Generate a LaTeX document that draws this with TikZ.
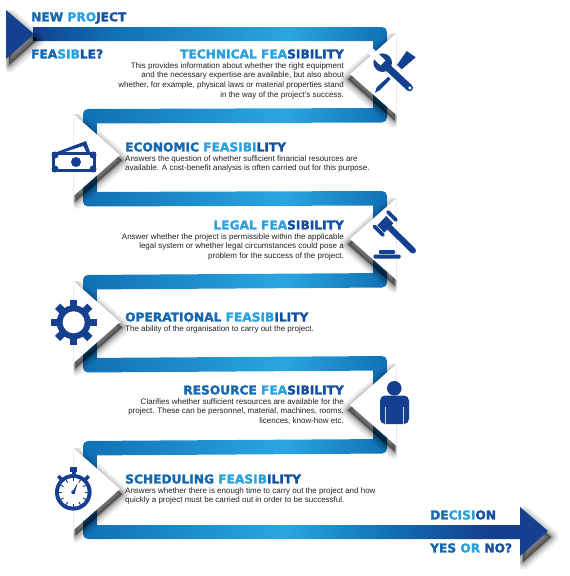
\documentclass[tikz,border=0pt]{standalone}
\usepackage{fontspec}
\setmainfont{Liberation Sans}
\newfontfamily\headfont[BoldFeatures={FakeBold=1.8}]{DejaVu Sans}
\usetikzlibrary{positioning}

\definecolor{iconblue}{HTML}{14408F}
\definecolor{headdark}{HTML}{1468B0}
\definecolor{headlight}{HTML}{2AA0DC}
\definecolor{headnavy}{HTML}{1450A0}
\definecolor{bandmid}{HTML}{1070B5}
\definecolor{bandlight}{HTML}{2AA6E1}
\definecolor{bodytext}{HTML}{222222}

\pgfdeclarehorizontalshading{rowshade}{100bp}{color(0bp)=(bandmid); color(25bp)=(bandmid); color(58bp)=(bandlight); color(75bp)=(bandmid); color(100bp)=(bandmid)}
\pgfdeclarehorizontalshading{firstshade}{100bp}{color(0bp)=(iconblue); color(25bp)=(iconblue); color(36bp)=(bandmid); color(61bp)=(bandlight); color(75bp)=(bandmid); color(100bp)=(bandmid)}
\pgfdeclarehorizontalshading{lastshade}{100bp}{color(0bp)=(bandmid); color(25bp)=(bandmid); color(48bp)=(bandlight); color(60bp)=(bandmid); color(71bp)=(iconblue); color(100bp)=(iconblue)}

\tikzset{
  headtext/.style={inner sep=0pt, font=\headfont\bfseries\fontsize{12.2}{13}\selectfont},
  bodyright/.style={inner sep=0pt, align=right, text=bodytext, font=\fontsize{8}{9.7}\selectfont},
  bodyleft/.style={inner sep=0pt, align=left, text=bodytext, font=\fontsize{8}{9.7}\selectfont},
  shadowlayer/.style={fill=black, draw=black, opacity=0.07, line join=round},
}

% three tints along one heading
\newcommand{\tints}[3]{\textcolor{headdark}{#1}\textcolor{headlight}{#2}\textcolor{headnavy}{#3}}
\newcommand{\softshadow}[2]{\foreach \w in {1,2,3,4,6,8,11,15}{\path[shadowlayer, line width=\w pt, shift={#2}] #1;}}

\begin{document}
\begin{tikzpicture}[x=1pt, y=-1pt]
  \useasboundingbox (0,0) rectangle (570,576);
  \fill[white] (0,0) rectangle (570,576);

  % Vertical links
  \foreach \ya/\yb in {34/115,198/281,363/446}
    \fill[bandmid] (373,\ya) rectangle (387,\yb);
  \foreach \ya/\yb in {116/200,282/365,448/532}
    \fill[bandmid] (83,\ya) rectangle (97,\yb);

  % Bands
  \path[shading=firstshade] (33,27) [rounded corners=5pt] -- (387,27) [sharp corners] -- (387,41) -- (33,41) -- cycle;
  \foreach \yl/\yr in {109/108,275/273,441/439}
    \path[shading=rowshade] (83,\yl+14.5) [rounded corners=5pt] -- (83,\yl) [sharp corners] -- (387,\yr) [rounded corners=5pt] -- (387,\yr+14.5) [sharp corners] -- cycle;
  \foreach \yl/\yr in {192/191,358/356}
    \path[shading=rowshade] (83,\yl) [rounded corners=5pt] -- (83,\yl+14.5) [sharp corners] -- (387,\yr+14.5) [rounded corners=5pt] -- (387,\yr) [sharp corners] -- cycle;
  \path[shading=lastshade] (521,525) -- (83,525) [rounded corners=5pt] -- (83,539) [sharp corners] -- (521,539) -- cycle;

  % White pointers
  \foreach \tipx/\tipy/\d in {350/74/-1,120/155/1,350/239/-1,120/322/1,350/405/-1,120/489/1}{
    \begin{scope}
      \clip (\tipx-46.5*\d,\tipy-41) rectangle (\tipx+40*\d,\tipy+60);
      \softshadow{(\tipx-46.5*\d,\tipy-41) -- (\tipx,\tipy) -- (\tipx-46.5*\d,\tipy+41) -- cycle}{(2*\d,5.3)}
    \end{scope}
    \fill[white] (\tipx-46.5*\d,\tipy-41) -- (\tipx,\tipy) -- (\tipx-46.5*\d,\tipy+41) -- cycle;
  }

  % Arrow heads
  \begin{scope}
    \clip (6,10) rectangle (60,80);
    \softshadow{(6,10) -- (34,34) -- (6,59) -- cycle}{(3,6)}
  \end{scope}
  \fill[iconblue] (6,10) -- (34,34) -- (6,59) -- cycle;
  \begin{scope}
    \clip (520,507) rectangle (570,576);
    \softshadow{(520,507) -- (548,531) -- (520,556) -- cycle}{(3,6)}
  \end{scope}
  \fill[iconblue] (520,507) -- (548,531) -- (520,556) -- cycle;

  % Wrench and screwdriver
  \fill[iconblue] (382.7,62.7) circle (9.3);
  \draw[iconblue, line width=7pt, line cap=round] (382.7,62.7) -- (409.5,87.8);
  \draw[white, line width=7pt] (383,63) -- (370,50.5);
  \fill[white] (409.8,88) circle (1.7);
  \fill[iconblue] (406.7,51) -- (415.7,57.3) -- (401.7,69.3) -- (397,65) -- cycle;
  \fill[iconblue] (388.3,76.7) -- (390.7,79) -- (380,90) -- (375,92.7) -- (376.7,87.3) -- cycle;

  % Banknotes
  \fill[iconblue] (57,152) -- (86,141) -- (90,152) -- cycle;
  \fill[white] (65,152) -- (83.3,146) -- (86,152) -- cycle;
  \fill[iconblue] (52,152) rectangle (96,172);
  \fill[white] (55,155) rectangle (93,169);
  \foreach \cx/\cy in {55/155,93/155,55/169,93/169}
    \fill[iconblue] (\cx,\cy) circle (3.5);
  \fill[iconblue] (76,162) circle (5);

  % Gavel
  \draw[iconblue, line width=6pt, line cap=round] (388,226) -- (413,250.5);
  \fill[iconblue] (386.3,216) -- (393.3,223.3) -- (384.3,232.7) -- (377.3,225.3) -- cycle;
  \draw[iconblue, line width=3.6pt, line cap=round] (388,212) -- (396,220);
  \draw[iconblue, line width=3.6pt, line cap=round] (374.5,226.5) -- (383,235);
  \fill[iconblue, rounded corners=1pt] (379,250) rectangle (395,254);
  \fill[iconblue, rounded corners=1pt] (373.7,254.5) rectangle (400.5,258.5);

  % Gear
  \foreach \a in {0,45,...,315}
    \fill[iconblue, rotate around={\a:(73.7,322.3)}] (70,299.5) rectangle (77.4,310);
  \fill[iconblue] (73.7,322.3) circle (17);
  \fill[white] (73.7,322.3) circle (11);

  % Person
  \fill[iconblue] (394.3,388.3) circle (7.3);
  \fill[iconblue, rounded corners=5pt] (380,395.5) rectangle (409,424);
  \draw[white!80!iconblue, line width=0.8pt] (385.7,407) -- (385.7,424);
  \draw[white!80!iconblue, line width=0.8pt] (403.7,407) -- (403.7,424);

  % Stopwatch
  \fill[iconblue] (70,467.3) rectangle (77.3,471.7);
  \fill[iconblue] (71.7,471.7) rectangle (75.7,476);
  \draw[iconblue, line width=3.5pt] (58.3,476) -- (62,480);
  \draw[iconblue, line width=3.5pt] (88.7,476) -- (85,480);
  \fill[iconblue] (73.3,492.3) circle (18.3);
  \fill[white] (73.3,492.3) circle (14.3);
  \foreach \a in {0,30,...,330}
    \draw[iconblue, line width=1pt, rotate around={\a:(73.3,492.3)}] (73.3,478) -- (73.3,481);
  \fill[iconblue] (72.3,491.8) -- (77.7,483) -- (74.8,492.8) -- cycle;
  \fill[iconblue] (73.3,492.3) circle (2);

  % Arrow labels
  \node[headtext, anchor=west] (newproject) at (31,18) {\tints{NEW}{\ PRO}{JECT}};
  \node[headtext, anchor=west] (feasible) at (31,54) {\tints{FEA}{SIB}{LE?}};
  \node[headtext, anchor=west] (decision) at (430,515) {\tints{DE}{CISI}{ON}};
  \node[headtext, anchor=west] (yesorno) at (430,548) {\tints{YES}{\ OR\ }{NO?}};

  % Technical
  \node[headtext, anchor=east] (technical) at (344,54) {\tints{}{TECHNICAL FEA}{SIBILITY}};
  \node[bodyright, below=3.2pt of technical.south east, anchor=north east] (technicaltext) {This provides information about whether the right equipment\\and the necessary expertise are available, but also about\\whether, for example, physical laws or material properties stand\\in the way of the project's success.};

  % Economic
  \node[headtext, anchor=west] (economic) at (125,147) {\tints{ECONOMIC}{\ FEASIBI}{LITY}};
  \node[bodyleft, below=3.2pt of economic.south west, anchor=north west] (economictext) {Answers the question of whether sufficient financial resources are\\available. A cost-benefit analysis is often carried out for this purpose.};

  % Legal
  \node[headtext, anchor=east] (legal) at (344,225) {\tints{}{LEGAL FEA}{SIBILITY}};
  \node[bodyright, below=3.2pt of legal.south east, anchor=north east] (legaltext) {Answer whether the project is permissible within the applicable\\legal system or whether legal circumstances could pose a\\problem for the success of the project.};

  % Operational
  \node[headtext, anchor=west] (operational) at (125,317) {\tints{OPERATIONAL}{\ FEASIB}{ILITY}};
  \node[bodyleft, below=3.2pt of operational.south west, anchor=north west] (operationaltext) {The ability of the organisation to carry out the project.};

  % Resource
  \node[headtext, anchor=east] (resource) at (344,390) {\tints{RESOURCE}{\ FEA}{SIBILITY}};
  \node[bodyright, below=3.2pt of resource.south east, anchor=north east] (resourcetext) {Clarifies whether sufficient resources are available for the\\project. These can be personnel, material, machines, rooms,\\licences, know-how etc.};

  % Scheduling
  \node[headtext, anchor=west] (scheduling) at (125,479) {\tints{SCHEDULING}{\ FEASIB}{ILITY}};
  \node[bodyleft, below=3.2pt of scheduling.south west, anchor=north west] (schedulingtext) {Answers whether there is enough time to carry out the project and how\\quickly a project must be carried out in order to be successful.};
\end{tikzpicture}
\end{document}
